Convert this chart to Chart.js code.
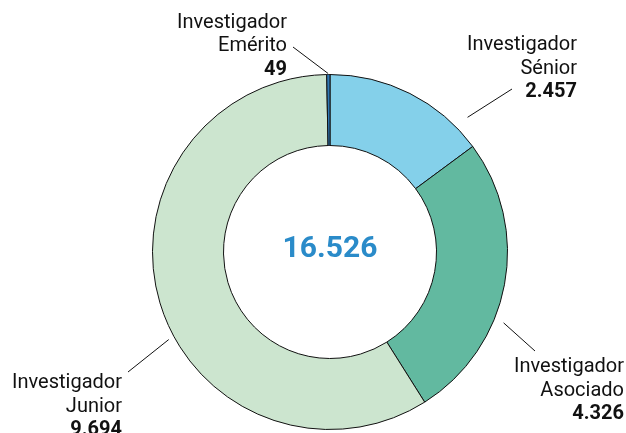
<!DOCTYPE html>
<html>
<head>
<meta charset="utf-8">
<script src="https://cdn.jsdelivr.net/npm/chart.js@4"></script>
<style>
  html, body { margin: 0; padding: 0; background: #fff; }
  #wrap { width: 626px; height: 433px; position: relative; }
</style>
</head>
<body>
<div id="wrap"><canvas id="investigadoresChart"></canvas></div>
<script>
// data
var categories = ['Investigador Sénior', 'Investigador Asociado', 'Investigador Junior', 'Investigador Emérito']
var labelLines = [['Investigador', 'Sénior'], ['Investigador', 'Asociado'], ['Investigador', 'Junior'], ['Investigador', 'Emérito']]
var values = [2457, 4326, 9694, 49]
var sliceColors = ['#84d0ea', '#62b9a0', '#cce5cf', '#2f78b5']

// where each label sits: angle (deg from top, clockwise) where the leader line starts,
// gap from the ring, and the leader end / text anchor relative to the chart center
var labelLayout = [
    { angle: 45.6,  gap: 15, lineEnd: [182, -163], textX: 247,  textY: -207 },
    { angle: 112.2, gap: 10, lineEnd: [205, 99],   textX: 294,  textY: 115 },
    { angle: 241.5, gap: 6,  lineEnd: [-202, 120], textX: -208, textY: 131 },
    { angle: 359.4, gap: 1,  lineEnd: [-37, -205], textX: -43,  textY: -229.5 }
]

function formatNumber(n) {
    return n.toString().replace(/\B(?=(\d{3})+(?!\d))/g, '.')
}

var total = values.reduce(function (a, b) { return a + b }, 0)

const centerTextPlugin = {
    id: 'centerText',
    afterDraw: function (chart) {
        var arc = chart.getDatasetMeta(0).data[0]
        var ctx = chart.ctx
        ctx.save()
        ctx.fillStyle = '#2a8bc9'
        ctx.font = 'bold 30px Roboto'
        ctx.textAlign = 'center'
        ctx.textBaseline = 'middle'
        ctx.fillText(formatNumber(total), arc.x, arc.y - 3)
        ctx.restore()
    }
}

const calloutPlugin = {
    id: 'callouts',
    afterDraw: function (chart) {
        var meta = chart.getDatasetMeta(0)
        var ctx = chart.ctx
        ctx.save()
        meta.data.forEach(function (arc, i) {
            var lay = labelLayout[i]
            var a = lay.angle * Math.PI / 180
            var r = arc.outerRadius + lay.gap
            var sx = arc.x + Math.sin(a) * r
            var sy = arc.y - Math.cos(a) * r
            ctx.strokeStyle = '#111'
            ctx.lineWidth = 1
            ctx.beginPath()
            ctx.moveTo(sx, sy)
            ctx.lineTo(arc.x + lay.lineEnd[0], arc.y + lay.lineEnd[1])
            ctx.stroke()

            var tx = arc.x + lay.textX
            var ty = arc.y + lay.textY
            ctx.fillStyle = '#111'
            ctx.textAlign = 'right'
            ctx.textBaseline = 'middle'
            ctx.font = '20px Roboto'
            labelLines[i].forEach(function (line, k) {
                ctx.fillText(line, tx, ty + k * 23.5)
            })
            ctx.font = 'bold 20px Roboto'
            ctx.fillText(formatNumber(values[i]), tx, ty + labelLines[i].length * 23.5)
        })
        ctx.restore()
    }
}

const ctx = document.getElementById('investigadoresChart')

const newChart = new Chart(ctx, {
    type: 'doughnut',
    data: {
        labels: categories,
        datasets: [{
            data: values,
            backgroundColor: sliceColors,
            borderColor: '#111',
            borderWidth: 1,
        }]
    },
    options: {
        responsive: true,
        maintainAspectRatio: false,
        animation: false,
        cutout: '60%',
        layout: {
            padding: { top: 74, bottom: 3, left: 34, right: 0 }
        },
        plugins: {
            legend: { display: false },
            tooltip: { enabled: false },
        },
    },
    plugins: [centerTextPlugin, calloutPlugin]
});
</script>
</body>
</html>
